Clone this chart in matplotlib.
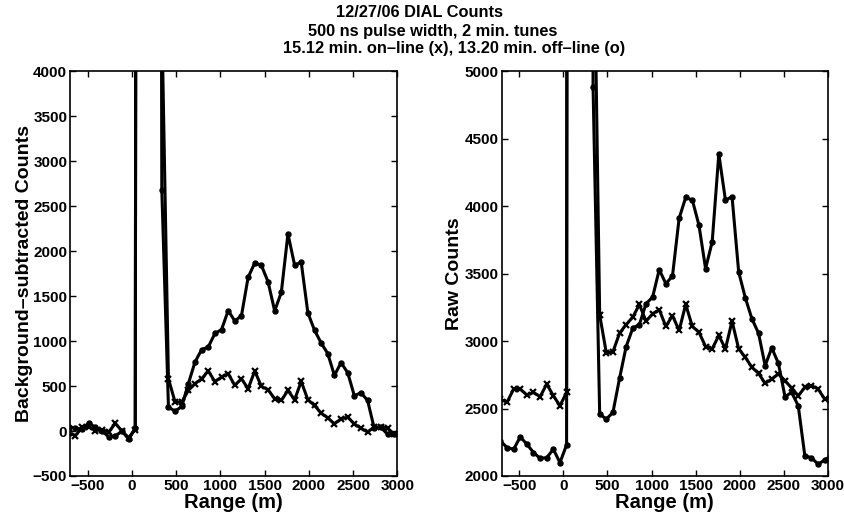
import numpy as np
import matplotlib
matplotlib.use("Agg")
import matplotlib.pyplot as plt

plt.rcParams['font.family'] = ['Liberation Sans Narrow', 'Liberation Sans', 'DejaVu Sans']
plt.rcParams['font.weight'] = 'bold'
plt.rcParams['axes.labelweight'] = 'bold'

# range gates (m)
rng = [-712.5, -637.5, -562.5, -487.5, -412.5, -337.5, -262.5, -187.5, -112.5, -37.5,
       37.5, 112.5, 187.5, 262.5, 337.5, 412.5, 487.5, 562.5, 637.5, 712.5,
       787.5, 862.5, 937.5, 1012.5, 1087.5, 1162.5, 1237.5, 1312.5, 1387.5, 1462.5,
       1537.5, 1612.5, 1687.5, 1762.5, 1837.5, 1912.5, 1987.5, 2062.5, 2137.5, 2212.5,
       2287.5, 2362.5, 2437.5, 2512.5, 2587.5, 2662.5, 2737.5, 2812.5, 2887.5, 2962.5,
       3037.5]

# background-subtracted counts
bg_off = [50, 30, 25, 90, 40, 0, -65, -55, 0, -90,
          35, 60000, 60000, 40000, 2684, 266, 221, 273, 527, 768,
          905, 935, 1085, 1129, 1340, 1224, 1284, 1709, 1870, 1843,
          1661, 1337, 1542, 2193, 1847, 1877, 1315, 1122, 980, 861,
          619, 761, 649, 393, 426, 340, 30, 40, -35, -30,
          -35]
bg_on = [-20, -50, 40, 45, 5, 15, -10, 85, 0, -75,
         15, 60000, 60000, 40000, 4600, 582, 322, 322, 452, 527,
         582, 668, 550, 601, 638, 508, 582, 471, 668, 497,
         460, 359, 340, 452, 348, 552, 348, 285, 199, 147,
         80, 136, 154, 80, 30, -10, 43, 45, 31, -38,
         -35]

# raw counts
raw_off = [2260, 2211, 2198, 2290, 2236, 2174, 2131, 2136, 2198, 2099,
           2231, 62000, 62000, 42000, 4884, 2459, 2422, 2471, 2724, 2960,
           3096, 3123, 3277, 3327, 3530, 3426, 3483, 3910, 4066, 4046,
           3860, 3538, 3736, 4388, 4046, 4071, 3513, 3322, 3166, 3059,
           2818, 2950, 2836, 2588, 2620, 2521, 2149, 2136, 2087, 2119,
           2150]
raw_on = [2571, 2546, 2645, 2645, 2600, 2620, 2588, 2682, 2595, 2521,
          2620, 62000, 62000, 42000, 6500, 3195, 2913, 2920, 3059, 3123,
          3178, 3272, 3148, 3203, 3233, 3109, 3190, 3079, 3272, 3109,
          3066, 2960, 2943, 3042, 2943, 3148, 2943, 2880, 2806, 2761,
          2687, 2719, 2757, 2707, 2652, 2595, 2657, 2670, 2645, 2571,
          2560]

fig = plt.figure(figsize=(8.45, 5.18), dpi=100)
ax1 = fig.add_axes([0.0828, 0.0811, 0.3876, 0.7810])
ax2 = fig.add_axes([0.5935, 0.0811, 0.3864, 0.7810])

def draw(ax, on, off, ylim, yticks, ylabel, pad):
    ax.plot(rng, on, color='k', lw=2.2, marker='x', ms=5, mew=1.6)
    ax.plot(rng, off, color='k', lw=2.2, marker='o', ms=3.6)
    ax.set_xlim(-700, 3000)
    ax.set_ylim(*ylim)
    ax.set_xticks([-500, 0, 500, 1000, 1500, 2000, 2500, 3000])
    ax.set_yticks(yticks)
    ax.tick_params(direction='in', top=True, right=True, length=4, width=1,
                   labelsize=11, pad=2)
    for lab in ax.get_xticklabels() + ax.get_yticklabels():
        lab.set_fontweight('bold')
    for s in ax.spines.values():
        s.set_linewidth(1.2)
    ax.set_xlabel('Range (m)', fontsize=14.5, fontweight='bold', labelpad=0)
    ax.set_ylabel(ylabel, fontsize=14, fontweight='bold', labelpad=pad)

draw(ax1, bg_on, bg_off, (-500, 4000), list(range(-500, 4001, 500)),
     'Background\u2013subtracted Counts', 0)
draw(ax2, raw_on, raw_off, (2000, 5000), list(range(2000, 5001, 500)),
     'Raw Counts', 1)

fig.text(0.496, 0.975, '12/27/06 DIAL Counts', ha='center', va='center',
         fontsize=11.8, fontweight='bold')
fig.text(0.512, 0.940, '500 ns pulse width, 2 min. tunes', ha='center', va='center',
         fontsize=11.8, fontweight='bold')
fig.text(0.538, 0.906, '15.12 min. on\u2013line (x), 13.20 min. off\u2013line (o)',
         ha='center', va='center', fontsize=11.8, fontweight='bold')

fig.savefig('out.png', dpi=100)
